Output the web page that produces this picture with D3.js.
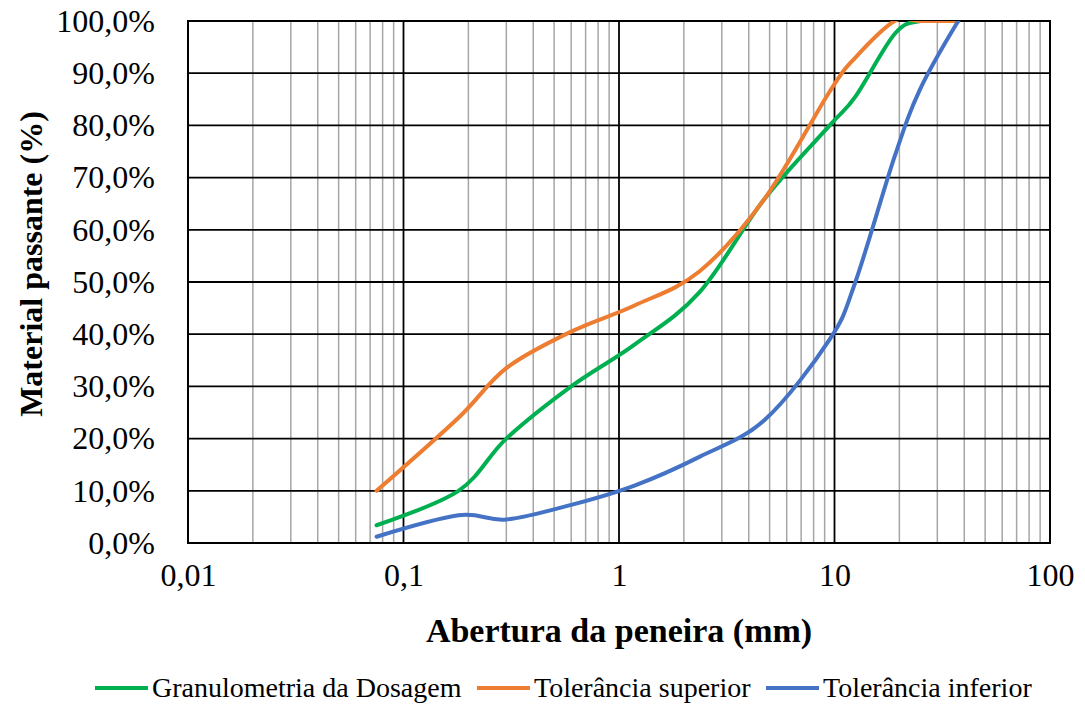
<!DOCTYPE html>
<html>
<head>
<meta charset="utf-8">
<script src="https://cdn.jsdelivr.net/npm/d3@7"></script>
<style>
  html, body { margin: 0; padding: 0; background: #ffffff; }
  svg { display: block; }
  text { font-family: "Liberation Serif", "Times New Roman", serif; fill: #000; }
</style>
</head>
<body>
<svg id="chart" width="1085" height="704"></svg>
<script>
// Sieve openings (mm)
const sieves = [0.075, 0.18, 0.3, 0.6, 1.18, 2.36, 4.75, 9.5, 12.5, 19, 25, 37.5];

// Percent passing for each sieve
const dosagem   = [3.4, 10, 20, 30, 38, 48, 66, 80, 85.5, 97.5, 100, 100];
const superior  = [10, 24, 33.5, 40.5, 45.5, 52, 66, 86.5, 93, 100, 100, 100];
const inferior  = [1.2, 5.3, 4.5, 7.3, 11, 16.5, 23.6, 39, 50, 74, 87, 100];

const seriesNames  = ["Granulometria da Dosagem", "Tolerância superior", "Tolerância inferior"];
const seriesValues = [dosagem, superior, inferior];
const seriesColors = ["#00B050", "#ED7D31", "#4472C4"];

const xTickValues = [0.01, 0.1, 1, 10, 100];
const xTickLabels = ["0,01", "0,1", "1", "10", "100"];
const yTickValues = [0, 10, 20, 30, 40, 50, 60, 70, 80, 90, 100];

const svg = d3.select("#chart");
const plot = { left: 188, right: 1050, top: 21, bottom: 543 };

const x = d3.scaleLog().domain([0.01, 100]).range([plot.left, plot.right]);
const y = d3.scaleLinear().domain([0, 100]).range([plot.bottom, plot.top]);

// Clip series to the plot area
svg.append("defs").append("clipPath").attr("id", "plot-clip")
  .append("rect")
  .attr("x", plot.left).attr("y", plot.top)
  .attr("width", plot.right - plot.left).attr("height", plot.bottom - plot.top);

// Minor vertical grid (2..9 within each decade)
const minor = [];
for (let e = -2; e < 2; e++) {
  for (let m = 2; m <= 9; m++) minor.push(m * Math.pow(10, e));
}
svg.append("g")
  .selectAll("line")
  .data(minor)
  .join("line")
  .attr("x1", d => x(d)).attr("x2", d => x(d))
  .attr("y1", plot.top).attr("y2", plot.bottom)
  .attr("stroke", "#a6a6a6")
  .attr("stroke-width", 1.5);

// Major vertical grid (decades)
svg.append("g")
  .selectAll("line")
  .data(xTickValues)
  .join("line")
  .attr("x1", d => x(d)).attr("x2", d => x(d))
  .attr("y1", plot.top).attr("y2", plot.bottom)
  .attr("stroke", "#000")
  .attr("stroke-width", 1.8);

// Horizontal grid
svg.append("g")
  .selectAll("line")
  .data(yTickValues)
  .join("line")
  .attr("x1", plot.left).attr("x2", plot.right)
  .attr("y1", d => y(d)).attr("y2", d => y(d))
  .attr("stroke", "#000")
  .attr("stroke-width", 1.8);

// Plot frame
svg.append("rect")
  .attr("x", plot.left).attr("y", plot.top)
  .attr("width", plot.right - plot.left).attr("height", plot.bottom - plot.top)
  .attr("fill", "none").attr("stroke", "#000").attr("stroke-width", 2);

// Axes
const xAxis = d3.axisBottom(x)
  .tickValues(xTickValues)
  .tickFormat((d, i) => xTickLabels[i])
  .tickSize(0)
  .tickPadding(20);
const gx = svg.append("g")
  .attr("transform", `translate(0,${plot.bottom})`)
  .call(xAxis);
gx.select(".domain").remove();
gx.selectAll("text").attr("font-size", 32);

const pctFmt = d => d3.format(".1f")(d).replace(".", ",") + "%";
const yAxis = d3.axisLeft(y)
  .tickValues(yTickValues)
  .tickFormat(pctFmt)
  .tickSize(0)
  .tickPadding(33);
const gy = svg.append("g")
  .attr("transform", `translate(${plot.left},0)`)
  .call(yAxis);
gy.select(".domain").remove();
gy.selectAll("text").attr("font-size", 32);

// Series (smoothed lines)
const line = d3.line()
  .x(d => x(d[0]))
  .y(d => y(d[1]))
  .curve(d3.curveCatmullRom.alpha(0));

const series = svg.append("g").attr("clip-path", "url(#plot-clip)");
seriesValues.forEach((vals, i) => {
  series.append("path")
    .datum(sieves.map((s, j) => [s, vals[j]]))
    .attr("fill", "none")
    .attr("stroke", seriesColors[i])
    .attr("stroke-width", 4)
    .attr("stroke-linecap", "round")
    .attr("stroke-linejoin", "round")
    .attr("d", line);
});

// Axis titles
svg.append("text")
  .attr("x", (plot.left + plot.right) / 2)
  .attr("y", 642)
  .attr("text-anchor", "middle")
  .attr("font-size", 34)
  .attr("font-weight", "bold")
  .text("Abertura da peneira (mm)");

svg.append("text")
  .attr("transform", `translate(42,${(plot.top + plot.bottom) / 2 - 18}) rotate(-90)`)
  .attr("text-anchor", "middle")
  .attr("font-size", 32)
  .attr("font-weight", "bold")
  .text("Material passante (%)");

// Legend
const legendItems = [
  { x: 95, lineW: 53 },
  { x: 477, lineW: 53 },
  { x: 766, lineW: 53 }
];
const legend = svg.append("g");
legendItems.forEach((it, i) => {
  legend.append("line")
    .attr("x1", it.x).attr("x2", it.x + it.lineW)
    .attr("y1", 688).attr("y2", 688)
    .attr("stroke", seriesColors[i])
    .attr("stroke-width", 4);
  legend.append("text")
    .attr("x", it.x + it.lineW + 4)
    .attr("y", 697)
    .attr("font-size", 28)
    .text(seriesNames[i]);
});
</script>
</body>
</html>
